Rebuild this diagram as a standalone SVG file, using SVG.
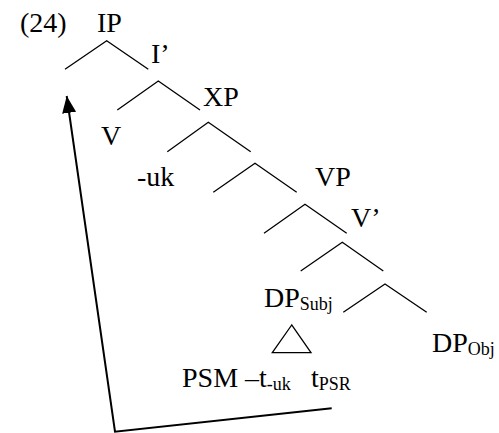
<svg xmlns="http://www.w3.org/2000/svg" width="499" height="433" viewBox="0 0 499 433">
<defs>
<style>
.t{font-family:'Liberation Serif','Times New Roman',serif;font-size:28px;fill:#000}
.sub{font-size:18px}
.br{fill:none;stroke:#000;stroke-width:1.3}
.mv{fill:none;stroke:#000;stroke-width:2}
</style>
<marker id="ah" markerUnits="userSpaceOnUse" markerWidth="18" markerHeight="15" refX="17" refY="7" orient="auto">
<path d="M0,0 L17,7 L0,14 z" fill="#000"/>
</marker>
</defs>
<rect width="499" height="433" fill="#fff"/>
<g class="t">
<g id="ex"><text x="20" y="32">(24)</text></g>
<g id="IP"><text x="97" y="32">IP</text></g>
<g id="Ibar"><text x="151" y="63">I’</text></g>
<g id="XP"><text x="203" y="106">XP</text></g>
<g id="V"><text x="101" y="145">V</text></g>
<g id="uk"><text x="137" y="186">-uk</text></g>
<g id="VP"><text x="315" y="186">VP</text></g>
<g id="Vbar"><text x="351" y="227">V’</text></g>
<g id="DPsubj"><text x="264" y="307">DP<tspan class="sub" dy="3">Subj</tspan></text></g>
<g id="DPobj"><text x="432" y="352">DP<tspan class="sub" dy="3">Obj</tspan></text></g>
<g id="PSM"><text x="182" y="387">PSM –t<tspan class="sub" dy="3">-uk</tspan></text><text x="311" y="387">t<tspan class="sub" dy="3">PSR</tspan></text></g>
</g>
<g id="connectors">
<polyline class="br" points="65,69.3 106.7,40.7 148.3,69.3"/>
<polyline class="br" points="117.3,110 158.3,81 200,110"/>
<polyline class="br" points="167.3,151.7 208.3,122.3 250.7,151.7"/>
<polyline class="br" points="213.3,192.3 255,163.3 296.7,192.3"/>
<polyline class="br" points="264,233.3 305,204.3 346.7,233.3"/>
<polyline class="br" points="300.7,271 342.3,242.3 383.3,271"/>
<polyline class="br" points="343.3,312.3 385,284 426.7,312.3"/>
<polygon class="br" points="291.7,325 272.3,352.7 311,352.7"/>
<polyline class="mv" points="331.7,408.3 115,431.7 66.7,96" marker-end="url(#ah)"/>
</g>
</svg>
